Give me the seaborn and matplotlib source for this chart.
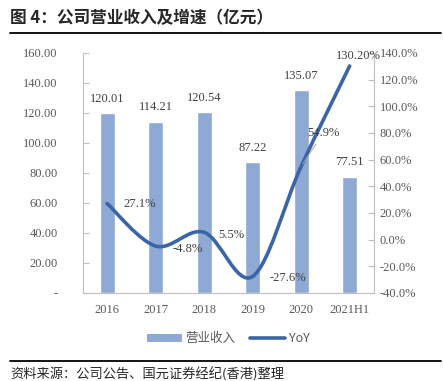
import numpy as np
import pandas as pd
import matplotlib
matplotlib.use("Agg")
import matplotlib.pyplot as plt
from matplotlib.path import Path
from matplotlib.patches import PathPatch
from matplotlib.lines import Line2D
from matplotlib.patches import Patch
import seaborn as sns

years = ["2016", "2017", "2018", "2019", "2020", "2021H1"]
revenue = [120.01, 114.21, 120.54, 87.22, 135.07, 77.51]
yoy = [27.1, -4.8, 5.5, -27.6, 54.9, 130.2]
yoy_labels = ["27.1%", "-4.8%", "5.5%", "-27.6%", "54.9%", "130.20%"]

bar_color = "#8EA9D3"
line_color = "#3A65A6"
grey = "#595959"
serif = ["Liberation Serif", "DejaVu Serif"]
cjk = ["Noto Sans CJK SC", "DejaVu Sans"]

sns.set_style("white")
plt.rcParams["font.family"] = serif

df = pd.DataFrame({"year": years, "revenue": revenue, "yoy": yoy})

fig = plt.figure(figsize=(4.43, 3.81), dpi=100)
ax = fig.add_axes([0.187, 0.231, 0.657, 0.630])

sns.barplot(data=df, x="year", y="revenue", color=bar_color, width=0.31,
            saturation=1, ax=ax)
ax.set_ylim(0, 160)
ax.set_xlim(-0.5, len(years) - 0.5)
ax.set_yticks(np.arange(0, 161, 20))
ax.set_yticklabels(["-"] + ["%.2f" % v for v in np.arange(20, 161, 20)])
ax.set_xlabel("")
ax.set_ylabel("")
ax.set_xticks(np.arange(len(years)))
ax.set_xticklabels(years)
ax.tick_params(axis="x", length=0, pad=8, labelsize=9, labelcolor=grey)
ax.tick_params(axis="y", direction="in", length=4, color="#BFBFBF", labelsize=9,
               labelcolor=grey, pad=18)
ax.set_xticks(np.arange(len(years) + 1) - 0.5, minor=True)
ax.tick_params(axis="x", which="minor", direction="in", length=4, color="#BFBFBF")
for s in ["top", "right"]:
    ax.spines[s].set_visible(False)
for s in ["left", "bottom"]:
    ax.spines[s].set_color("#BFBFBF")
    ax.spines[s].set_linewidth(0.8)

for i, v in enumerate(revenue):
    ax.annotate("%.2f" % v, (i, v), xytext=(0, 6), textcoords="offset points",
                ha="center", va="bottom", fontsize=9, color="#404040")

ax2 = ax.twinx()
ax2.set_ylim(-40, 140)
ax2.set_yticks(np.arange(-40, 141, 20))
ax2.set_yticklabels(["%.1f%%" % v for v in np.arange(-40, 141, 20)])
ax2.tick_params(axis="y", direction="in", length=4, color="#BFBFBF", labelsize=9,
                labelcolor=grey, pad=4)
for s in ["top", "left", "bottom"]:
    ax2.spines[s].set_visible(False)
ax2.spines["right"].set_color("#BFBFBF")
ax2.spines["right"].set_linewidth(0.8)

# smoothed line (Excel-style bezier)
xs = np.arange(len(yoy), dtype=float)
ys = np.array(yoy, dtype=float)
verts = [(xs[0], ys[0])]
codes = [Path.MOVETO]
n = len(xs)
for i in range(n - 1):
    p0 = np.array([xs[max(i - 1, 0)], ys[max(i - 1, 0)]])
    p1 = np.array([xs[i], ys[i]])
    p2 = np.array([xs[i + 1], ys[i + 1]])
    p3 = np.array([xs[min(i + 2, n - 1)], ys[min(i + 2, n - 1)]])
    c1 = p1 + (p2 - p0) / 6
    c2 = p2 - (p3 - p1) / 6
    verts += [tuple(c1), tuple(c2), tuple(p2)]
    codes += [Path.CURVE4] * 3
ax2.add_patch(PathPatch(Path(verts, codes), facecolor="none", edgecolor=line_color,
                        lw=2.6, capstyle="round"))

offsets = [(12, 0), (12, -2), (10, -2), (12, -1), (16, 20), (6, 3)]
for i, (v, t) in enumerate(zip(yoy, yoy_labels)):
    ha = "left" if i < 4 else "center"
    va = "center" if i < 4 else "bottom"
    if i == 4:
        ax2.annotate(t, (i, v), xytext=offsets[i], textcoords="offset points",
                     ha="center", va="bottom", fontsize=9, color="#404040",
                     arrowprops=dict(arrowstyle="-", color="#A6A6A6", lw=0.7,
                                     shrinkA=2, shrinkB=2))
    else:
        ax2.annotate(t, (i, v), xytext=offsets[i], textcoords="offset points",
                     ha=ha, va=va, fontsize=9, color="#404040")

handles = [Patch(facecolor=bar_color, edgecolor="none"),
           Line2D([], [], color=line_color, lw=2.6)]
leg = ax.legend(handles, ["营业收入", "YoY"], loc="center", ncol=2,
                bbox_to_anchor=(0.5, -0.19), frameon=False, fontsize=9,
                handlelength=2.8, handleheight=0.6, columnspacing=1.2,
                handletextpad=0.3)
for t in leg.get_texts():
    t.set_color(grey)
    t.set_family(["Noto Sans CJK SC", "Liberation Serif"])

fig.text(0.023, 0.952, "图 4：公司营业收入及增速（亿元）", fontsize=12,
         fontweight="bold", family=cjk, va="center", ha="left")
fig.add_artist(Line2D([0.023, 0.995], [0.913, 0.913], color="black", lw=1.3))
fig.add_artist(Line2D([0.023, 0.995], [0.052, 0.052], color="black", lw=1.3))
fig.text(0.023, 0.018, "资料来源：公司公告、国元证券经纪(香港)整理", fontsize=9.5,
         family=cjk, va="center", ha="left", style="italic")

fig.savefig("out.png", dpi=100)
